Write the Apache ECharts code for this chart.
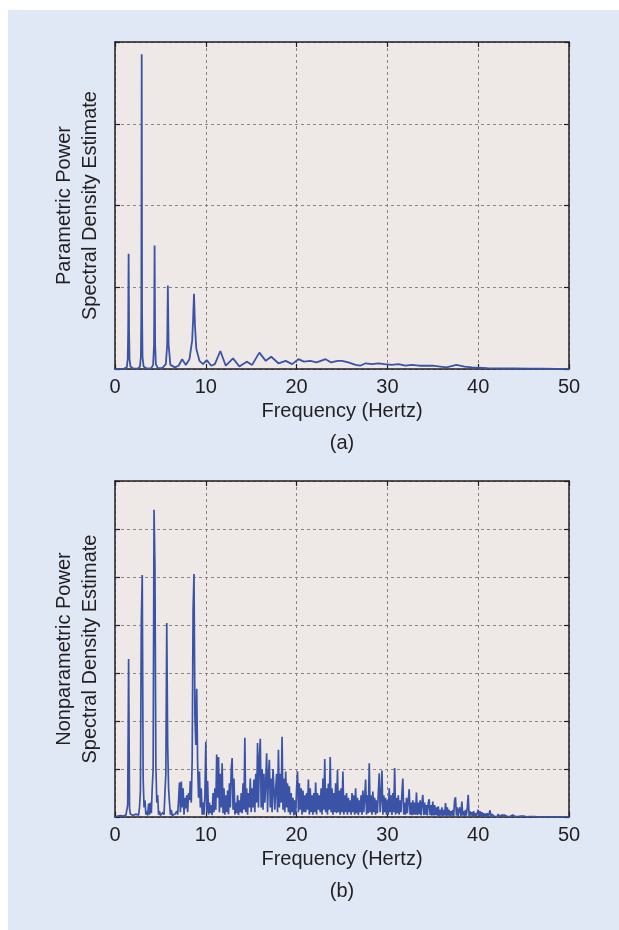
<!DOCTYPE html>
<html>
<head>
<meta charset="utf-8">
<script src="https://cdn.jsdelivr.net/npm/echarts@6/dist/echarts.min.js"></script>
<style>
html,body{margin:0;padding:0;background:#ffffff;}
#chart{width:619px;height:930px;}
</style>
</head>
<body>
<div id="chart"></div>
<script>
// ---- data ----
var xTicks = [0, 10, 20, 30, 40, 50];
var topFreq = [0,1.0,1.3,1.4,1.45,1.5,1.55,1.6,1.7,2.0,2.5,2.75,2.85,2.9,2.94,2.98,3.03,3.15,3.5,4.0,4.2,4.3,4.36,4.42,4.5,4.7,5.2,5.6,5.75,5.82,5.9,6.1,6.6,7.0,7.4,7.8,8.2,8.5,8.6,8.7,8.8,8.95,9.3,9.7,10.1,10.6,11.0,11.6,12.2,13.0,13.7,14.5,15.1,15.9,16.6,17.2,18.0,18.8,19.5,20.2,20.8,21.5,22.2,23.2,23.8,24.5,25.0,25.7,26.5,27.0,27.6,28.3,29.0,29.7,30.5,31.2,32.0,32.7,33.5,34.2,35.0,35.8,36.5,37.6,38.5,39.3,40.0,41.0,42.5,44.0,45.5,47.0,48.5,50];
var topPSD = [0,0.005,0.02,0.12,0.45,1.41,0.45,0.12,0.03,0.005,0.005,0.03,0.15,0.7,3.85,0.7,0.15,0.03,0.005,0.01,0.05,0.3,1.51,0.3,0.06,0.015,0.01,0.06,0.3,1.02,0.3,0.05,0.02,0.04,0.12,0.05,0.12,0.35,0.6,0.92,0.55,0.25,0.1,0.06,0.11,0.04,0.06,0.22,0.04,0.13,0.03,0.09,0.05,0.2,0.1,0.15,0.07,0.1,0.06,0.12,0.09,0.1,0.08,0.12,0.08,0.1,0.1,0.08,0.05,0.04,0.07,0.06,0.07,0.06,0.05,0.06,0.04,0.05,0.04,0.04,0.04,0.03,0.02,0.05,0.03,0.02,0.015,0.01,0.008,0.006,0.004,0.003,0.002,0.001];

// nonparametric periodogram, sampled every 0.1 Hz from 0 to 50 Hz
var npStep = 0.1;
var npPSD = [
0,0.01,0.01,0.02,0.01,0.02,0.03,0.02,0.03,0.02,
0.03,0.02,0.04,0.08,0.25,3.29,0.18,0.06,0.03,0.02,
0.03,0.05,0.02,0.06,0.03,0.1,0.04,0.2,0.55,4.1,
5.04,0.8,0.2,0.35,0.05,0.12,0.03,0.28,0.05,0.3,
0.08,0.6,1.0,6.4,5.19,1.1,0.3,0.45,0.05,0.12,
0.03,0.06,0.02,0.1,0.05,0.5,0.9,4.04,1.5,0.6,
0.3,0.05,0.15,0.03,0.04,0.02,0.06,0.03,0.12,0.05,
0.35,0.72,0.1,0.74,0.2,0.6,0.05,0.4,0.18,0.45,
0.1,0.5,0.35,0.75,0.3,1.2,4.3,5.06,2.1,1.5,
2.67,1.1,0.4,0.95,0.2,0.6,0.05,0.3,0.05,0.45,
1.57,0.1,0.75,0.05,0.3,0.08,0.25,0.04,0.5,0.1,
0.6,0.15,1.3,0.4,1.25,0.1,0.9,0.2,1.12,0.08,
0.6,0.05,0.45,0.1,0.55,0.06,0.7,0.2,1.0,1.23,
0.15,0.8,0.05,0.3,0.08,0.45,0.04,0.35,0.1,0.5,
0.08,0.7,0.15,1.65,0.1,0.6,0.05,0.5,0.2,0.8,
0.1,0.6,0.2,0.78,0.1,0.9,0.3,1.54,0.2,1.2,
1.63,0.2,1.0,0.15,0.9,0.3,0.7,1.33,0.1,0.9,
1.19,0.2,0.8,0.1,1.0,1.02,0.15,0.6,0.9,0.1,
1.4,0.2,0.9,0.3,1.67,0.15,0.8,0.1,0.95,0.2,
0.7,0.1,0.64,0.05,0.5,0.1,0.4,0.03,0.35,0.05,
0.6,0.95,0.1,0.7,0.15,0.6,0.05,0.55,0.1,0.45,
0.1,0.5,0.15,0.78,0.05,0.6,0.1,0.45,0.05,0.5,
0.1,0.72,0.05,0.5,0.15,0.45,0.1,0.6,0.05,0.8,
0.15,1.21,0.1,0.6,0.05,0.7,0.15,1.25,0.1,0.6,
0.05,0.5,0.1,0.7,0.08,0.98,0.1,0.55,0.05,0.6,
0.1,0.95,0.05,0.45,0.1,0.5,0.05,0.4,0.1,0.35,
0.05,0.5,0.1,0.45,0.05,0.6,0.08,0.4,0.04,0.35,
0.1,0.45,0.05,0.55,0.1,0.4,0.78,0.05,0.45,0.08,
1.12,0.1,0.45,0.05,0.53,0.1,0.4,0.05,0.35,0.08,
0.5,0.91,0.1,0.4,0.97,0.05,0.45,0.1,0.4,0.05,
0.35,0.05,0.6,0.1,0.45,0.04,0.5,0.1,1.02,0.05,
0.4,0.08,0.45,0.05,0.35,0.1,0.5,0.8,0.05,0.3,
0.05,0.4,0.08,0.35,0.58,0.05,0.3,0.04,0.35,0.05,
0.3,0.05,0.51,0.04,0.3,0.06,0.35,0.03,0.3,0.46,
0.04,0.3,0.05,0.25,0.03,0.3,0.37,0.04,0.25,0.03,
0.32,0.03,0.25,0.04,0.2,0.03,0.22,0.02,0.15,0.03,
0.2,0.02,0.15,0.03,0.29,0.02,0.2,0.03,0.15,0.02,
0.12,0.03,0.15,0.02,0.35,0.41,0.03,0.2,0.02,0.15,
0.2,0.02,0.32,0.03,0.12,0.02,0.15,0.03,0.2,0.46,
0.02,0.12,0.03,0.1,0.02,0.12,0.02,0.08,0.02,0.06,
0.15,0.02,0.12,0.01,0.1,0.02,0.08,0.01,0.07,0.02,
0.08,0.01,0.07,0.14,0.01,0.06,0.02,0.05,0.01,0.03,
0.05,0.01,0.06,0.01,0.05,0.01,0.04,0.08,0.01,0.04,
0.01,0.04,0.01,0.03,0.05,0.01,0.03,0.01,0.04,0.01,
0.03,0.01,0.02,0.03,0.01,0.03,0.01,0.02,0.03,0.01,
0.02,0.005,0.02,0.005,0.02,0.005,0.01,0.02,0.005,0.01,
0.01,0.004,0.008,0.004,0.006,0.003,0.005,0.003,0.005,0.003,
0.004,0.002,0.003,0.002,0.003,0.002,0.002,0.002,0.002,0.002,
0.002,0.001,0.001,0.002,0.001,0.001,0.001,0.001,0.001,0.001,
0.001,0.001,0.001,0.001,0.001,0.001,0.001,0.001,0.001,0.001,
0
];
var yTopMax = 4, yBotMax = 7;
var labels = {
  xName: 'Frequency (Hertz)',
  yTop: 'Parametric Power\nSpectral Density Estimate',
  yBot: 'Nonparametric Power\nSpectral Density Estimate',
  a: '(a)', b: '(b)'
};

// ---- build ----
var topData = topFreq.map(function (f, i) { return [f, topPSD[i]]; });
var botData = npPSD.map(function (v, i) { return [Math.round(i * npStep * 10) / 10, v]; });

var FONT = '"Liberation Sans", Arial, Helvetica, sans-serif';
var TXT = '#231f20';
var LINE = '#3b53a7';
var gridLine = { show: true, lineStyle: { color: '#8a8583', type: [3, 3], width: 1 } };
var axLine = { show: true, onZero: false, lineStyle: { color: '#231f20', width: 1.5 } };
var tickIn = { show: true, inside: true, length: 5, lineStyle: { color: '#231f20', width: 1.2 } };

function xAxes(gi) {
  return [{
    gridIndex: gi, type: 'value', min: 0, max: 50, interval: 10, position: 'bottom',
    axisLine: axLine, axisTick: tickIn, splitLine: gridLine,
    axisLabel: { color: TXT, fontFamily: FONT, fontSize: 20, margin: 8 },
    name: labels.xName, nameLocation: 'middle', nameGap: 32,
    nameTextStyle: { color: TXT, fontFamily: FONT, fontSize: 20 }
  }, {
    gridIndex: gi, type: 'value', min: 0, max: 50, interval: 10, position: 'top',
    axisLine: axLine, axisTick: tickIn, splitLine: { show: false }, axisLabel: { show: false }
  }];
}
function yAxes(gi, max, name) {
  return [{
    gridIndex: gi, type: 'value', min: 0, max: max, interval: 1, position: 'left',
    axisLine: axLine, axisTick: tickIn, splitLine: gridLine, axisLabel: { show: false },
    name: name, nameLocation: 'middle', nameGap: 12,
    nameTextStyle: { color: TXT, fontFamily: FONT, fontSize: 20, lineHeight: 26 }
  }, {
    gridIndex: gi, type: 'value', min: 0, max: max, interval: 1, position: 'right',
    axisLine: axLine, axisTick: tickIn, splitLine: { show: false }, axisLabel: { show: false }
  }];
}

var chart = echarts.init(document.getElementById('chart'), null, { renderer: 'canvas' });
chart.setOption({
  backgroundColor: 'transparent',
  animation: false,
  graphic: [
    { type: 'rect', z: -10, silent: true, shape: { x: 8, y: 10, width: 611, height: 920 }, style: { fill: '#dfe8f4' } },
    { type: 'text', x: 342, y: 443, style: { text: labels.a, fill: TXT, font: '20px ' + FONT, textAlign: 'center', textVerticalAlign: 'middle' } },
    { type: 'text', x: 342, y: 891, style: { text: labels.b, fill: TXT, font: '20px ' + FONT, textAlign: 'center', textVerticalAlign: 'middle' } }
  ],
  grid: [
    { left: 115, top: 42, width: 454, height: 327, show: true, backgroundColor: '#eee9e6', borderWidth: 0 },
    { left: 115, top: 481, width: 454, height: 336, show: true, backgroundColor: '#eee9e6', borderWidth: 0 }
  ],
  xAxis: xAxes(0).concat(xAxes(1)),
  yAxis: yAxes(0, yTopMax, labels.yTop).concat(yAxes(1, yBotMax, labels.yBot)),
  series: [
    { type: 'line', xAxisIndex: 0, yAxisIndex: 0, data: topData, showSymbol: false, smooth: false,
      lineStyle: { color: LINE, width: 1.8 }, clip: true },
    { type: 'line', xAxisIndex: 2, yAxisIndex: 2, data: botData, showSymbol: false, smooth: false,
      lineStyle: { color: LINE, width: 1.7 }, clip: true }
  ]
});
</script>
</body>
</html>
